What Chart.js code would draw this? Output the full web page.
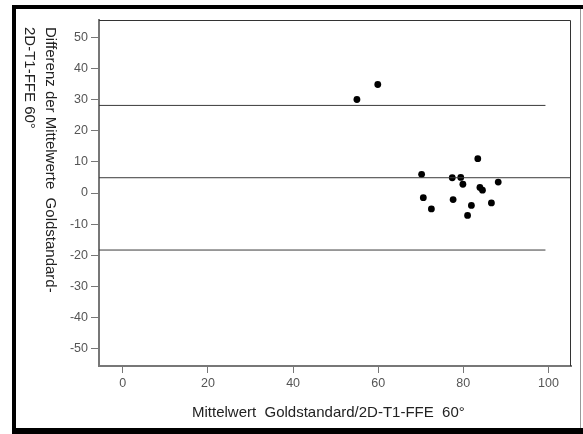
<!DOCTYPE html>
<html>
<head>
<meta charset="utf-8">
<script src="https://cdn.jsdelivr.net/npm/chart.js@4.4.0/dist/chart.umd.min.js"></script>
<style>
  html, body { margin: 0; padding: 0; background: #fff; }
  #wrap { width: 583px; height: 434px; }
</style>
</head>
<body>
<div id="wrap"><canvas id="blandAltman" width="583" height="434"></canvas></div>
<script>
// Bland-Altman data: mean of both methods (x) vs. difference (y)
const meanValues = [55.0, 59.9, 83.4, 70.2, 77.4, 79.4, 79.9, 88.2, 83.9, 84.5, 70.6, 77.6, 86.6, 81.9, 72.5, 81.0];
const diffValues = [30.0, 34.8, 11.0, 6.0, 4.9, 5.0, 2.8, 3.5, 1.8, 0.9, -1.5, -2.1, -3.2, -4.0, -5.1, -7.2];

// reference lines: mean difference and limits of agreement
const meanDiff = 4.9;
const upperLimit = 28.1;
const lowerLimit = -18.3;
const limitLineEnd = 99.3;

const xRange = [-5.6, 105.3];
const yRange = [-55.5, 55.5];

const xTitle = 'Mittelwert  Goldstandard/2D-T1-FFE  60°';
const yTitleLines = ['Differenz der Mittelwerte  Goldstandard-', '2D-T1-FFE 60°'];

const points = meanValues.map((m, i) => ({ x: m, y: diffValues[i] }));

function hLine(y, xEnd) {
    return {
        type: 'scatter',
        data: [{ x: xRange[0], y: y }, { x: xEnd, y: y }],
        showLine: true,
        borderColor: '#3a3a3a',
        borderWidth: 1,
        pointRadius: 0,
        pointHoverRadius: 0
    };
}

// frame, box and axis titles
const decorations = {
    id: 'decorations',
    beforeDraw(chart) {
        const ctx = chart.ctx;
        ctx.save();
        ctx.fillStyle = '#fff';
        ctx.fillRect(0, 0, chart.width, chart.height);
        ctx.restore();
    },
    afterDraw(chart) {
        const ctx = chart.ctx;
        const a = chart.chartArea;
        ctx.save();
        // top and right of plot box
        ctx.strokeStyle = '#333';
        ctx.lineWidth = 1;
        ctx.beginPath();
        ctx.moveTo(a.left, a.top + 0.5);
        ctx.lineTo(a.right - 0.5, a.top + 0.5);
        ctx.lineTo(a.right - 0.5, a.bottom);
        ctx.stroke();

        // outer picture frame
        ctx.fillStyle = '#000';
        ctx.fillRect(12, 5, 571, 4);
        ctx.fillRect(12, 5, 4, 429);
        ctx.fillRect(12, 428, 571, 6);
        ctx.fillStyle = '#999';
        ctx.fillRect(580, 9, 1, 419);

        // axis titles
        ctx.fillStyle = '#222';
        ctx.font = '15px "Liberation Sans", Arial, sans-serif';
        ctx.textBaseline = 'alphabetic';
        ctx.textAlign = 'left';
        ctx.fillText(xTitle, 192, 417);

        const colX = [46, 25];
        yTitleLines.forEach((line, i) => {
            ctx.save();
            ctx.translate(colX[i], 27);
            ctx.rotate(Math.PI / 2);
            ctx.fillText(line, 0, 0);
            ctx.restore();
        });
        ctx.restore();
    }
};

const tickFont = { family: '"Liberation Sans", Arial, sans-serif', size: 12.5 };

new Chart(document.getElementById('blandAltman'), {
    type: 'scatter',
    data: {
        datasets: [
            hLine(upperLimit, limitLineEnd),
            hLine(meanDiff, xRange[1]),
            hLine(lowerLimit, limitLineEnd),
            {
                type: 'scatter',
                data: points,
                backgroundColor: '#000',
                borderColor: '#000',
                pointRadius: 3.4,
                borderWidth: 0
            }
        ]
    },
    options: {
        responsive: false,
        animation: false,
        events: [],
        layout: { padding: { top: 20, right: 12, left: 0, bottom: 0 } },
        plugins: {
            legend: { display: false },
            tooltip: { enabled: false }
        },
        scales: {
            x: {
                type: 'linear',
                min: xRange[0],
                max: xRange[1],
                afterFit(scale) { scale.height = 68; },
                ticks: {
                    stepSize: 20,
                    includeBounds: false,
                    color: '#555',
                    font: tickFont,
                    padding: 3,
                    maxRotation: 0
                },
                grid: { drawOnChartArea: false, drawTicks: true, tickLength: 7, color: '#777', lineWidth: 1 },
                border: { display: true, color: '#777', width: 2 }
            },
            y: {
                type: 'linear',
                min: yRange[0],
                max: yRange[1],
                afterFit(scale) { scale.width = 99; },
                ticks: {
                    stepSize: 10,
                    includeBounds: false,
                    color: '#555',
                    font: tickFont,
                    padding: 3
                },
                grid: { drawOnChartArea: false, drawTicks: true, tickLength: 8, color: '#777', lineWidth: 1 },
                border: { display: true, color: '#777', width: 2 }
            }
        }
    },
    plugins: [decorations]
});
</script>
</body>
</html>
